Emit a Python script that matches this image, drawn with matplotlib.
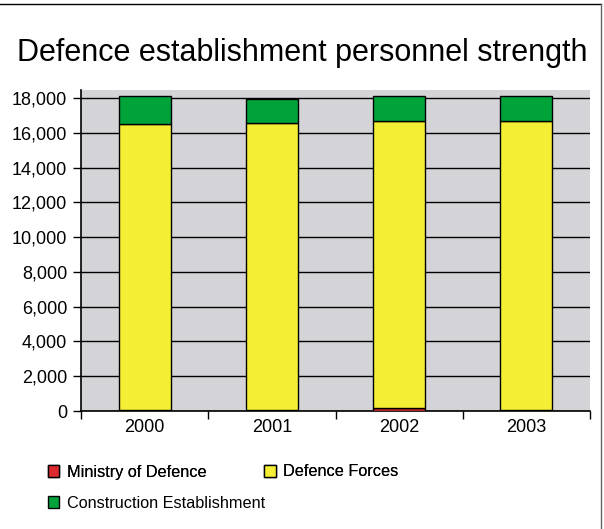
import matplotlib.pyplot as plt
from matplotlib.lines import Line2D
import numpy as np

plt.rcParams['font.family'] = ['Liberation Sans', 'DejaVu Sans']

# Data
years = ['2000', '2001', '2002', '2003']
ministry = [40, 40, 150, 40]
forces = [16480, 16540, 16530, 16640]
construction = [1580, 1380, 1420, 1420]

red = '#DC2A2E'
yellow = '#F4EE35'
green = '#00A23A'

fig = plt.figure(figsize=(6.04, 5.29), dpi=100)
ax = fig.add_axes([81 / 604, 1 - 411 / 529, (590 - 81) / 604, (411 - 90) / 529])
ax.set_facecolor('#D4D3D8')

x = np.arange(len(years)) + 0.5
w = 0.41
bottom2 = np.array(ministry) + np.array(forces)
b1 = ax.bar(x, ministry, w, color=red, edgecolor='black', linewidth=1, zorder=3,
            label='Ministry of Defence')
b2 = ax.bar(x, forces, w, bottom=ministry, color=yellow, edgecolor='black',
            linewidth=1, zorder=3, label='Defence Forces')
b3 = ax.bar(x, construction, w, bottom=bottom2, color=green, edgecolor='black',
            linewidth=1, zorder=3, label='Construction Establishment')

ax.set_xlim(0, len(years))
ax.set_ylim(0, 18460)
ax.set_yticks(np.arange(0, 18001, 2000))
ax.set_yticklabels([f'{v:,}' for v in range(0, 18001, 2000)], fontsize=13)
ax.yaxis.grid(True, color='black', linewidth=1, zorder=1)
ax.set_axisbelow(True)

ax.set_xticks(np.arange(len(years) + 1))
ax.set_xticklabels([])
ax.set_xticks(x, minor=True)
ax.set_xticklabels(years, minor=True, fontsize=13)
ax.tick_params(axis='x', which='minor', length=0, pad=6)
ax.tick_params(axis='x', which='major', length=6, width=1, direction='out')
ax.tick_params(axis='y', length=6, width=1, direction='out', pad=4)

for s in ['top', 'right']:
    ax.spines[s].set_visible(False)
for s in ['left', 'bottom']:
    ax.spines[s].set_linewidth(1.2)

fig.text(0.5, 1 - 53 / 529, 'Defence establishment personnel strength',
         ha='center', va='center', fontsize=22)

leg_kw = dict(loc='center left', frameon=False, fontsize=11.7, handlelength=0.7,
              handleheight=0.7, handletextpad=0.46, borderpad=0, borderaxespad=0)
leg1 = fig.legend([b1, b2], ['Ministry of Defence', 'Defence Forces'], ncol=2,
                  columnspacing=3.55, bbox_to_anchor=(48 / 604, 1 - 472 / 529), **leg_kw)
fig.legend([b3], ['Construction Establishment'],
           bbox_to_anchor=(48 / 604, 1 - 503 / 529), **leg_kw)
fig.add_artist(leg1)

# thin frame on top and right edges like the original
fig.add_artist(Line2D([0, 601 / 604], [1 - 4 / 529, 1 - 4 / 529],
                      transform=fig.transFigure, color='black', linewidth=1))
fig.add_artist(Line2D([601 / 604, 601 / 604], [0, 1 - 4 / 529],
                      transform=fig.transFigure, color='#666666', linewidth=1))

fig.savefig('out.png', dpi=100)
